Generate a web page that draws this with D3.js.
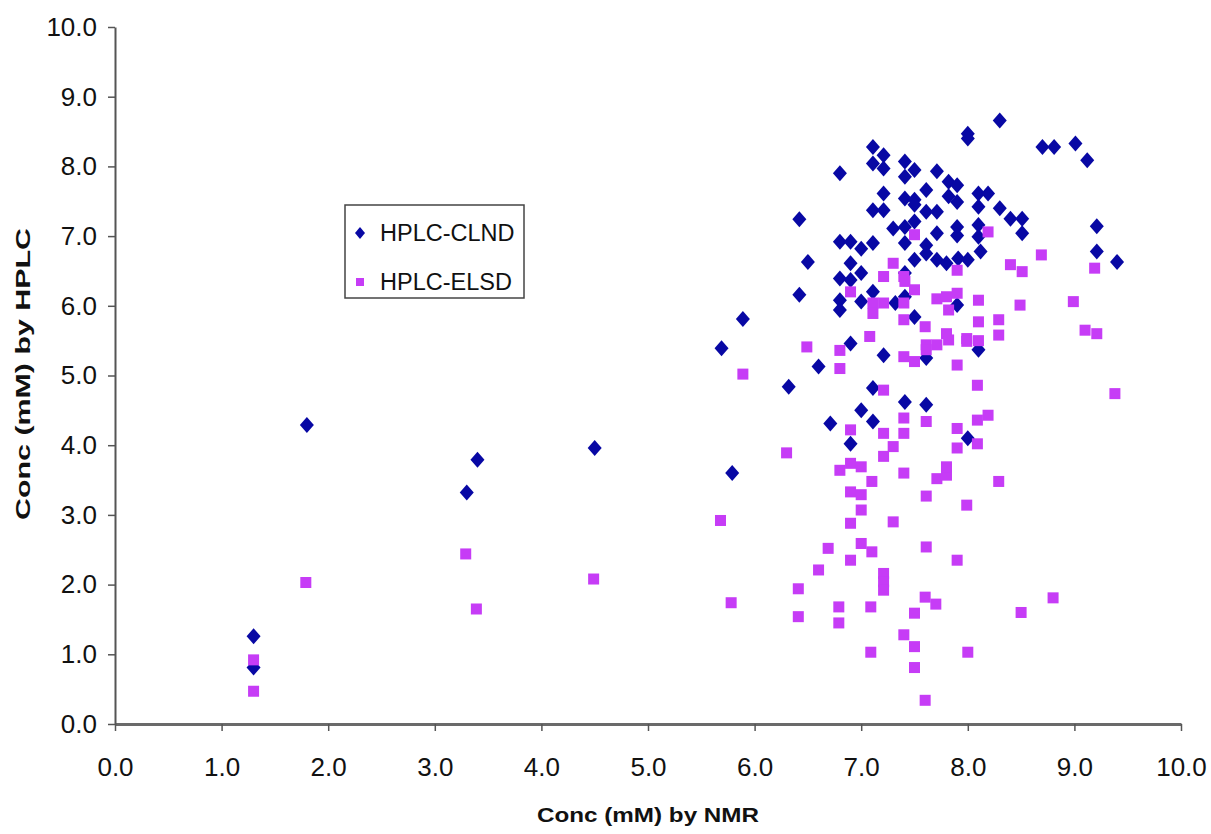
<!DOCTYPE html>
<html>
<head>
<meta charset="utf-8">
<script src="https://cdn.jsdelivr.net/npm/d3@7"></script>
<style>
  html, body { margin: 0; padding: 0; background: #fff; }
  svg { display: block; font-family: "Liberation Sans", Arial, sans-serif; }
</style>
</head>
<body>
<svg id="chart" width="1211" height="834"></svg>
<script>
// Concentration by NMR (x) vs. concentration by HPLC (y), two detectors
const seriesNames = ["HPLC-CLND", "HPLC-ELSD"];

const clndNmr = [1.30,1.30,1.80,3.30,3.40,4.50,5.69,5.79,5.89,6.32,6.42,6.42,6.50,6.60,6.71,
  6.80,6.80,6.80,6.80,6.80,6.90,6.90,6.90,6.90,6.90,7.00,7.00,7.00,7.00,
  7.11,7.11,7.11,7.11,7.11,7.11,7.11,7.21,7.21,7.21,7.21,7.21,7.30,7.32,
  7.41,7.41,7.41,7.41,7.41,7.41,7.41,7.41,7.50,7.50,7.50,7.50,7.50,7.50,
  7.61,7.61,7.61,7.61,7.61,7.61,7.71,7.71,7.71,7.71,7.80,7.82,7.82,
  7.90,7.90,7.90,7.90,7.91,7.90,8.00,8.00,8.00,8.00,8.10,8.10,8.10,8.10,8.12,8.10,
  8.19,8.30,8.30,8.40,8.51,8.51,8.70,8.81,9.01,9.12,9.21,9.21,9.40];
const clndHplc = [1.26,0.81,4.29,3.32,3.79,3.96,5.39,3.60,5.81,4.84,7.24,6.16,6.63,5.13,4.31,
  7.90,6.92,6.39,6.08,5.94,6.92,6.61,6.37,5.46,4.02,6.82,6.47,6.06,4.50,
  8.28,8.04,7.37,6.90,6.20,4.82,4.34,8.16,7.97,7.61,7.37,5.29,7.11,6.04,
  8.07,7.85,7.54,7.13,6.90,6.47,6.13,4.62,7.95,7.52,7.45,7.21,6.66,5.84,
  7.66,7.35,6.87,6.75,5.25,4.58,7.93,7.35,7.04,6.66,6.61,7.78,7.57,
  7.73,7.49,7.13,7.01,6.68,6.01,8.47,8.40,6.66,4.10,7.61,7.42,7.16,6.99,6.78,5.37,
  7.61,8.66,7.40,7.25,7.25,7.04,8.28,8.28,8.33,8.09,7.14,6.78,6.63];

const elsdNmr = [1.30,1.30,1.79,3.29,3.39,4.49,5.68,5.78,5.89,6.30,6.41,6.41,6.49,6.60,6.69,
  6.79,6.79,6.80,6.80,6.80,6.90,6.90,6.90,6.90,6.90,6.90,7.00,7.00,7.00,7.00,
  7.09,7.09,7.10,7.10,7.11,7.11,7.08,7.21,7.21,7.21,7.21,7.21,7.21,7.21,7.21,
  7.30,7.30,7.30,7.40,7.40,7.40,7.40,7.40,7.40,7.40,7.40,7.41,
  7.50,7.50,7.50,7.50,7.50,7.50,7.60,7.61,7.61,7.61,7.61,7.61,7.60,7.60,7.70,
  7.71,7.71,7.71,7.80,7.80,7.80,7.80,7.82,7.82,7.90,7.90,7.90,7.90,7.90,7.90,
  7.99,7.99,7.99,8.00,8.10,8.10,8.10,8.09,8.09,8.09,8.19,8.19,8.29,8.29,8.29,
  8.40,8.49,8.50,8.51,8.69,8.80,8.99,9.10,9.19,9.21,9.38];
const elsdHplc = [0.92,0.47,2.03,2.44,1.65,2.08,2.92,1.74,5.02,3.89,1.94,1.54,5.41,2.21,2.52,
  1.68,1.45,5.36,5.10,3.64,6.20,4.22,3.74,3.33,2.88,2.35,3.69,3.29,3.07,2.59,
  1.68,1.03,3.48,2.47,6.04,5.89,5.56,6.42,6.04,4.79,4.17,3.84,2.16,2.04,1.92,
  6.61,3.98,2.90,6.42,6.04,5.80,5.27,4.39,4.17,3.60,1.28,6.35,
  7.02,6.23,5.20,1.59,1.11,0.81,5.70,5.44,5.37,4.34,3.27,2.54,1.82,0.34,1.72,
  6.10,5.44,3.52,6.13,5.60,3.57,3.69,5.94,5.51,6.51,6.18,5.15,4.24,3.96,2.35,
  5.53,5.49,3.14,1.03,5.50,6.08,5.77,4.86,4.36,4.02,7.06,4.43,5.80,5.58,3.48,
  6.59,6.01,1.60,6.49,6.73,1.81,6.06,5.65,6.54,5.60,4.74];

const axisTicks = [0,1,2,3,4,5,6,7,8,9,10];
const xTitle = "Conc (mM) by NMR";
const yTitle = "Conc (mM) by HPLC";

const blue = "#0808a4";
const magenta = "#c63cf6";

const margin = { left: 115, top: 27, right: 30, bottom: 110 };
const pw = 1181 - margin.left, ph = 724 - margin.top;

const svg = d3.select("#chart");
const g = svg.append("g").attr("transform", `translate(${margin.left},${margin.top})`);

const x = d3.scaleLinear().domain([0, 10]).range([0, pw]);
const y = d3.scaleLinear().domain([0, 10]).range([ph, 0]);

// axes
const xAxis = g.append("g").attr("transform", `translate(0,${ph})`)
  .call(d3.axisBottom(x).tickValues(axisTicks).tickFormat(d3.format(".1f"))
    .tickSizeInner(7).tickSizeOuter(0).tickPadding(27));
const yAxis = g.append("g")
  .call(d3.axisLeft(y).tickValues(axisTicks).tickFormat(d3.format(".1f"))
    .tickSizeInner(7).tickSizeOuter(0).tickPadding(11));

xAxis.select(".domain").attr("stroke", "#6a6a6a").attr("stroke-width", 3);
yAxis.select(".domain").attr("stroke", "#555").attr("stroke-width", 2);
[xAxis, yAxis].forEach(a => {
  a.selectAll(".tick line").attr("stroke", "#555").attr("stroke-width", 1.5);
  a.selectAll(".tick text").attr("fill", "#111").style("font-size", "26px")
    .style("font-family", "'Liberation Sans', Arial, sans-serif");
});

// markers
const diamond = (cx, cy, hw, hh) => `M${cx},${cy - hh}L${cx + hw},${cy}L${cx},${cy + hh}L${cx - hw},${cy}Z`;

const clnd = clndNmr.map((v, i) => [v, clndHplc[i]]);
const elsd = elsdNmr.map((v, i) => [v, elsdHplc[i]]);

g.append("g").selectAll("path").data(clnd).join("path")
  .attr("d", d => diamond(x(d[0]), y(d[1]), 7, 8))
  .attr("fill", blue);

const sq = 11;
g.append("g").selectAll("rect").data(elsd).join("rect")
  .attr("x", d => x(d[0]) - sq / 2).attr("y", d => y(d[1]) - sq / 2)
  .attr("width", sq).attr("height", sq)
  .attr("fill", magenta);

// legend
const lg = svg.append("g").attr("transform", "translate(345,205)");
lg.append("rect").attr("width", 179).attr("height", 93)
  .attr("fill", "#fff").attr("stroke", "#444").attr("stroke-width", 1.5);
lg.append("path").attr("d", diamond(15, 28, 5, 6)).attr("fill", blue);
lg.append("rect").attr("x", 11).attr("y", 73).attr("width", 8).attr("height", 8).attr("fill", magenta);
lg.selectAll("text.lab").data(seriesNames).join("text").attr("class", "lab")
  .attr("x", 35).attr("y", (d, i) => 28 + i * 49)
  .attr("dominant-baseline", "central")
  .style("font-size", "23.5px").attr("fill", "#111").text(d => d);

// axis titles
svg.append("text").attr("x", margin.left + pw / 2).attr("y", 822)
  .attr("text-anchor", "middle").style("font-size", "21px").style("font-weight", "bold")
  .attr("textLength", 222).attr("lengthAdjust", "spacingAndGlyphs")
  .attr("fill", "#111").text(xTitle);
svg.append("text").attr("transform", `translate(30,374) rotate(-90)`)
  .attr("text-anchor", "middle").style("font-size", "21px").style("font-weight", "bold")
  .attr("textLength", 292).attr("lengthAdjust", "spacingAndGlyphs")
  .attr("fill", "#111").text(yTitle);
</script>
</body>
</html>
